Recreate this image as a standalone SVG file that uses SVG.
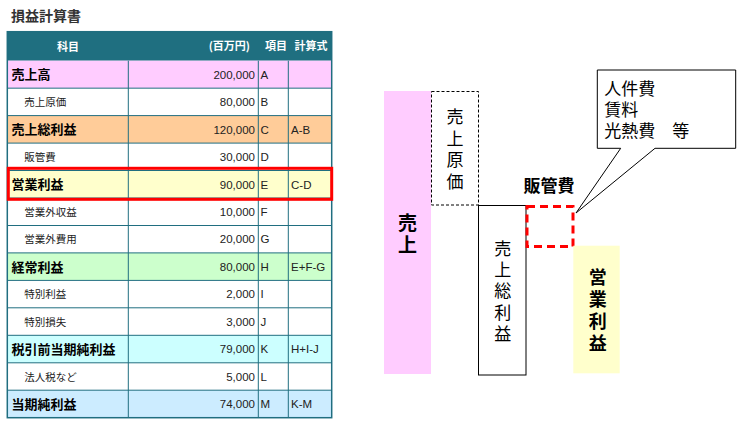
<svg xmlns="http://www.w3.org/2000/svg" width="755" height="440" viewBox="0 0 755 440">
<style>
.jp{font-family:"Noto Sans CJK JP","Liberation Sans",sans-serif}
.num{font-family:"Liberation Sans","Noto Sans CJK JP",sans-serif;font-size:11.5px;fill:#222}
.hd{font-family:"Noto Sans CJK JP",sans-serif;font-size:11px;font-weight:bold;fill:#fff}
.bn{font-family:"Noto Sans CJK JP",sans-serif;font-size:13px;font-weight:bold;fill:#000}
.nn{font-family:"Noto Sans CJK JP",sans-serif;font-size:10.5px;fill:#222}
.grid{stroke:#206E80;stroke-width:1;fill:none}
.dg{font-family:"Noto Sans CJK JP",sans-serif;font-size:17px;fill:#000}
.co{font-family:"Liberation Sans","Noto Sans CJK JP",sans-serif;font-size:17px;fill:#000}
.dgb{font-family:"Noto Sans CJK JP",sans-serif;font-weight:bold;fill:#000}
.vt{writing-mode:vertical-rl;text-orientation:upright}
</style>
<rect width="755" height="440" fill="#fff"/>
<text x="11" y="20.5" class="jp" font-size="14" font-weight="bold" fill="#333">損益計算書</text>

<g id="table">
<rect x="7.3" y="31.7" width="324.4" height="29" fill="#1F6F80"/>
<text x="68" y="50.5" class="hd" font-size="12.5" text-anchor="middle">科目</text>
<text x="250" y="50" class="hd" text-anchor="end">(百万円)</text>
<text x="276" y="50" class="hd" text-anchor="middle">項目</text>
<text x="311" y="50" class="hd" text-anchor="middle">計算式</text>

<g id="row-A"><rect x="7.3" y="60.7" width="324.4" height="27.46" fill="#FFCCFF"/>
<text x="11.5" y="79.2" class="bn">売上高</text><text x="255" y="78.6" class="num" text-anchor="end">200,000</text><text x="260.5" y="78.6" class="num">A</text></g>
<g id="row-B"><rect x="7.3" y="88.16" width="324.4" height="27.46" fill="#fff"/>
<text x="24.3" y="105.9" class="nn">売上原価</text><text x="255" y="106.1" class="num" text-anchor="end">80,000</text><text x="260.5" y="106.1" class="num">B</text></g>
<g id="row-C"><rect x="7.3" y="115.6" width="324.4" height="27.46" fill="#FFCC99"/>
<text x="11.5" y="134.1" class="bn">売上総利益</text><text x="255" y="133.5" class="num" text-anchor="end">120,000</text><text x="260.5" y="133.5" class="num">C</text><text x="291" y="133.5" class="num">A-B</text></g>
<g id="row-D"><rect x="7.3" y="143.1" width="324.4" height="27.46" fill="#fff"/>
<text x="24.3" y="160.8" class="nn">販管費</text><text x="255" y="161" class="num" text-anchor="end">30,000</text><text x="260.5" y="161" class="num">D</text></g>
<g id="row-E"><rect x="7.3" y="170.5" width="324.4" height="27.46" fill="#FFFFCC"/>
<text x="11.5" y="189" class="bn">営業利益</text><text x="255" y="188.5" class="num" text-anchor="end">90,000</text><text x="260.5" y="188.5" class="num">E</text><text x="291" y="188.5" class="num">C-D</text></g>
<g id="row-F"><rect x="7.3" y="198" width="324.4" height="27.46" fill="#fff"/>
<text x="24.3" y="215.7" class="nn">営業外収益</text><text x="255" y="215.9" class="num" text-anchor="end">10,000</text><text x="260.5" y="215.9" class="num">F</text></g>
<g id="row-G"><rect x="7.3" y="225.5" width="324.4" height="27.46" fill="#fff"/>
<text x="24.3" y="243.2" class="nn">営業外費用</text><text x="255" y="243.4" class="num" text-anchor="end">20,000</text><text x="260.5" y="243.4" class="num">G</text></g>
<g id="row-H"><rect x="7.3" y="252.9" width="324.4" height="27.46" fill="#CCFFCC"/>
<text x="11.5" y="271.6" class="bn">経常利益</text><text x="255" y="270.9" class="num" text-anchor="end">80,000</text><text x="260.5" y="270.9" class="num">H</text><text x="291" y="270.9" class="num">E+F-G</text></g>
<g id="row-I"><rect x="7.3" y="280.4" width="324.4" height="27.46" fill="#fff"/>
<text x="24.3" y="298.1" class="nn">特別利益</text><text x="255" y="298.3" class="num" text-anchor="end">2,000</text><text x="260.5" y="298.3" class="num">I</text></g>
<g id="row-J"><rect x="7.3" y="307.8" width="324.4" height="27.46" fill="#fff"/>
<text x="24.3" y="325.5" class="nn">特別損失</text><text x="255" y="325.8" class="num" text-anchor="end">3,000</text><text x="260.5" y="325.8" class="num">J</text></g>
<g id="row-K"><rect x="7.3" y="335.3" width="324.4" height="27.46" fill="#CCFFFF"/>
<text x="11.5" y="353.9" class="bn">税引前当期純利益</text><text x="255" y="353.2" class="num" text-anchor="end">79,000</text><text x="260.5" y="353.2" class="num">K</text><text x="291" y="353.2" class="num">H+I-J</text></g>
<g id="row-L"><rect x="7.3" y="362.8" width="324.4" height="27.46" fill="#fff"/>
<text x="24.3" y="380.5" class="nn">法人税など</text><text x="255" y="380.7" class="num" text-anchor="end">5,000</text><text x="260.5" y="380.7" class="num">L</text></g>
<g id="row-M"><rect x="7.3" y="390.2" width="324.4" height="27.46" fill="#CCECFF"/>
<text x="11.5" y="408.8" class="bn">当期純利益</text><text x="255" y="408.2" class="num" text-anchor="end">74,000</text><text x="260.5" y="408.2" class="num">M</text><text x="291" y="408.2" class="num">K-M</text></g>

<path class="grid" d="M7.3,88.16H331.7M7.3,115.6H331.7M7.3,143.1H331.7M7.3,170.5H331.7M7.3,198H331.7M7.3,225.5H331.7M7.3,252.9H331.7M7.3,280.4H331.7M7.3,307.8H331.7M7.3,335.3H331.7M7.3,362.8H331.7M7.3,390.2H331.7M128.3,60.7V417.7M258.3,60.7V417.7M288.3,60.7V417.7"/>
<rect x="7.3" y="31.7" width="324.4" height="386" fill="none" stroke="#206E80" stroke-width="1.5"/>
<rect id="highlight" x="8.3" y="168.3" width="323.4" height="31" fill="none" stroke="#FF0000" stroke-width="3"/>
</g>

<g id="uriage">
<rect x="384" y="91" width="47" height="283" fill="#FFCCFF"/>
<text class="dgb vt" font-size="19" x="407.5" y="213.5" letter-spacing="3">売上</text>
</g>
<g id="genka">
<rect x="431.5" y="91.5" width="47" height="113.5" fill="none" stroke="#000" stroke-width="1" stroke-dasharray="3,2"/>
<text class="dg vt" x="455" y="108.5" letter-spacing="4.5">売上原価</text>
</g>
<g id="sorieki">
<rect x="478.5" y="205.5" width="47.5" height="169.5" fill="#fff" stroke="#000" stroke-width="1"/>
<text class="dg vt" x="502.7" y="239.8" letter-spacing="4.3">売上総利益</text>
</g>
<g id="hankanhi">
<rect x="527" y="206.5" width="46" height="40" fill="none" stroke="#FF0000" stroke-width="3" stroke-dasharray="8,5"/>
<text x="549" y="191.5" class="dgb" font-size="17" text-anchor="middle">販管費</text>
</g>
<g id="eigyo">
<rect x="573.3" y="245.7" width="46.4" height="127.6" fill="#FFFFCC"/>
<text class="dgb vt" font-size="18" x="597.7" y="268" letter-spacing="4">営業利益</text>
</g>
<g id="callout">
<path d="M620.7,148.3H597.3V70H735.7V148.3H655L576,213Z" fill="#fff" stroke="#000" stroke-width="1"/>
<text class="co" x="604.3" y="95">人件費</text>
<text class="co" x="604.3" y="116">賃料</text>
<text class="co" x="604.3" y="137">光熱費　等</text>
</g>
<g id="connectors"></g>
</svg>
